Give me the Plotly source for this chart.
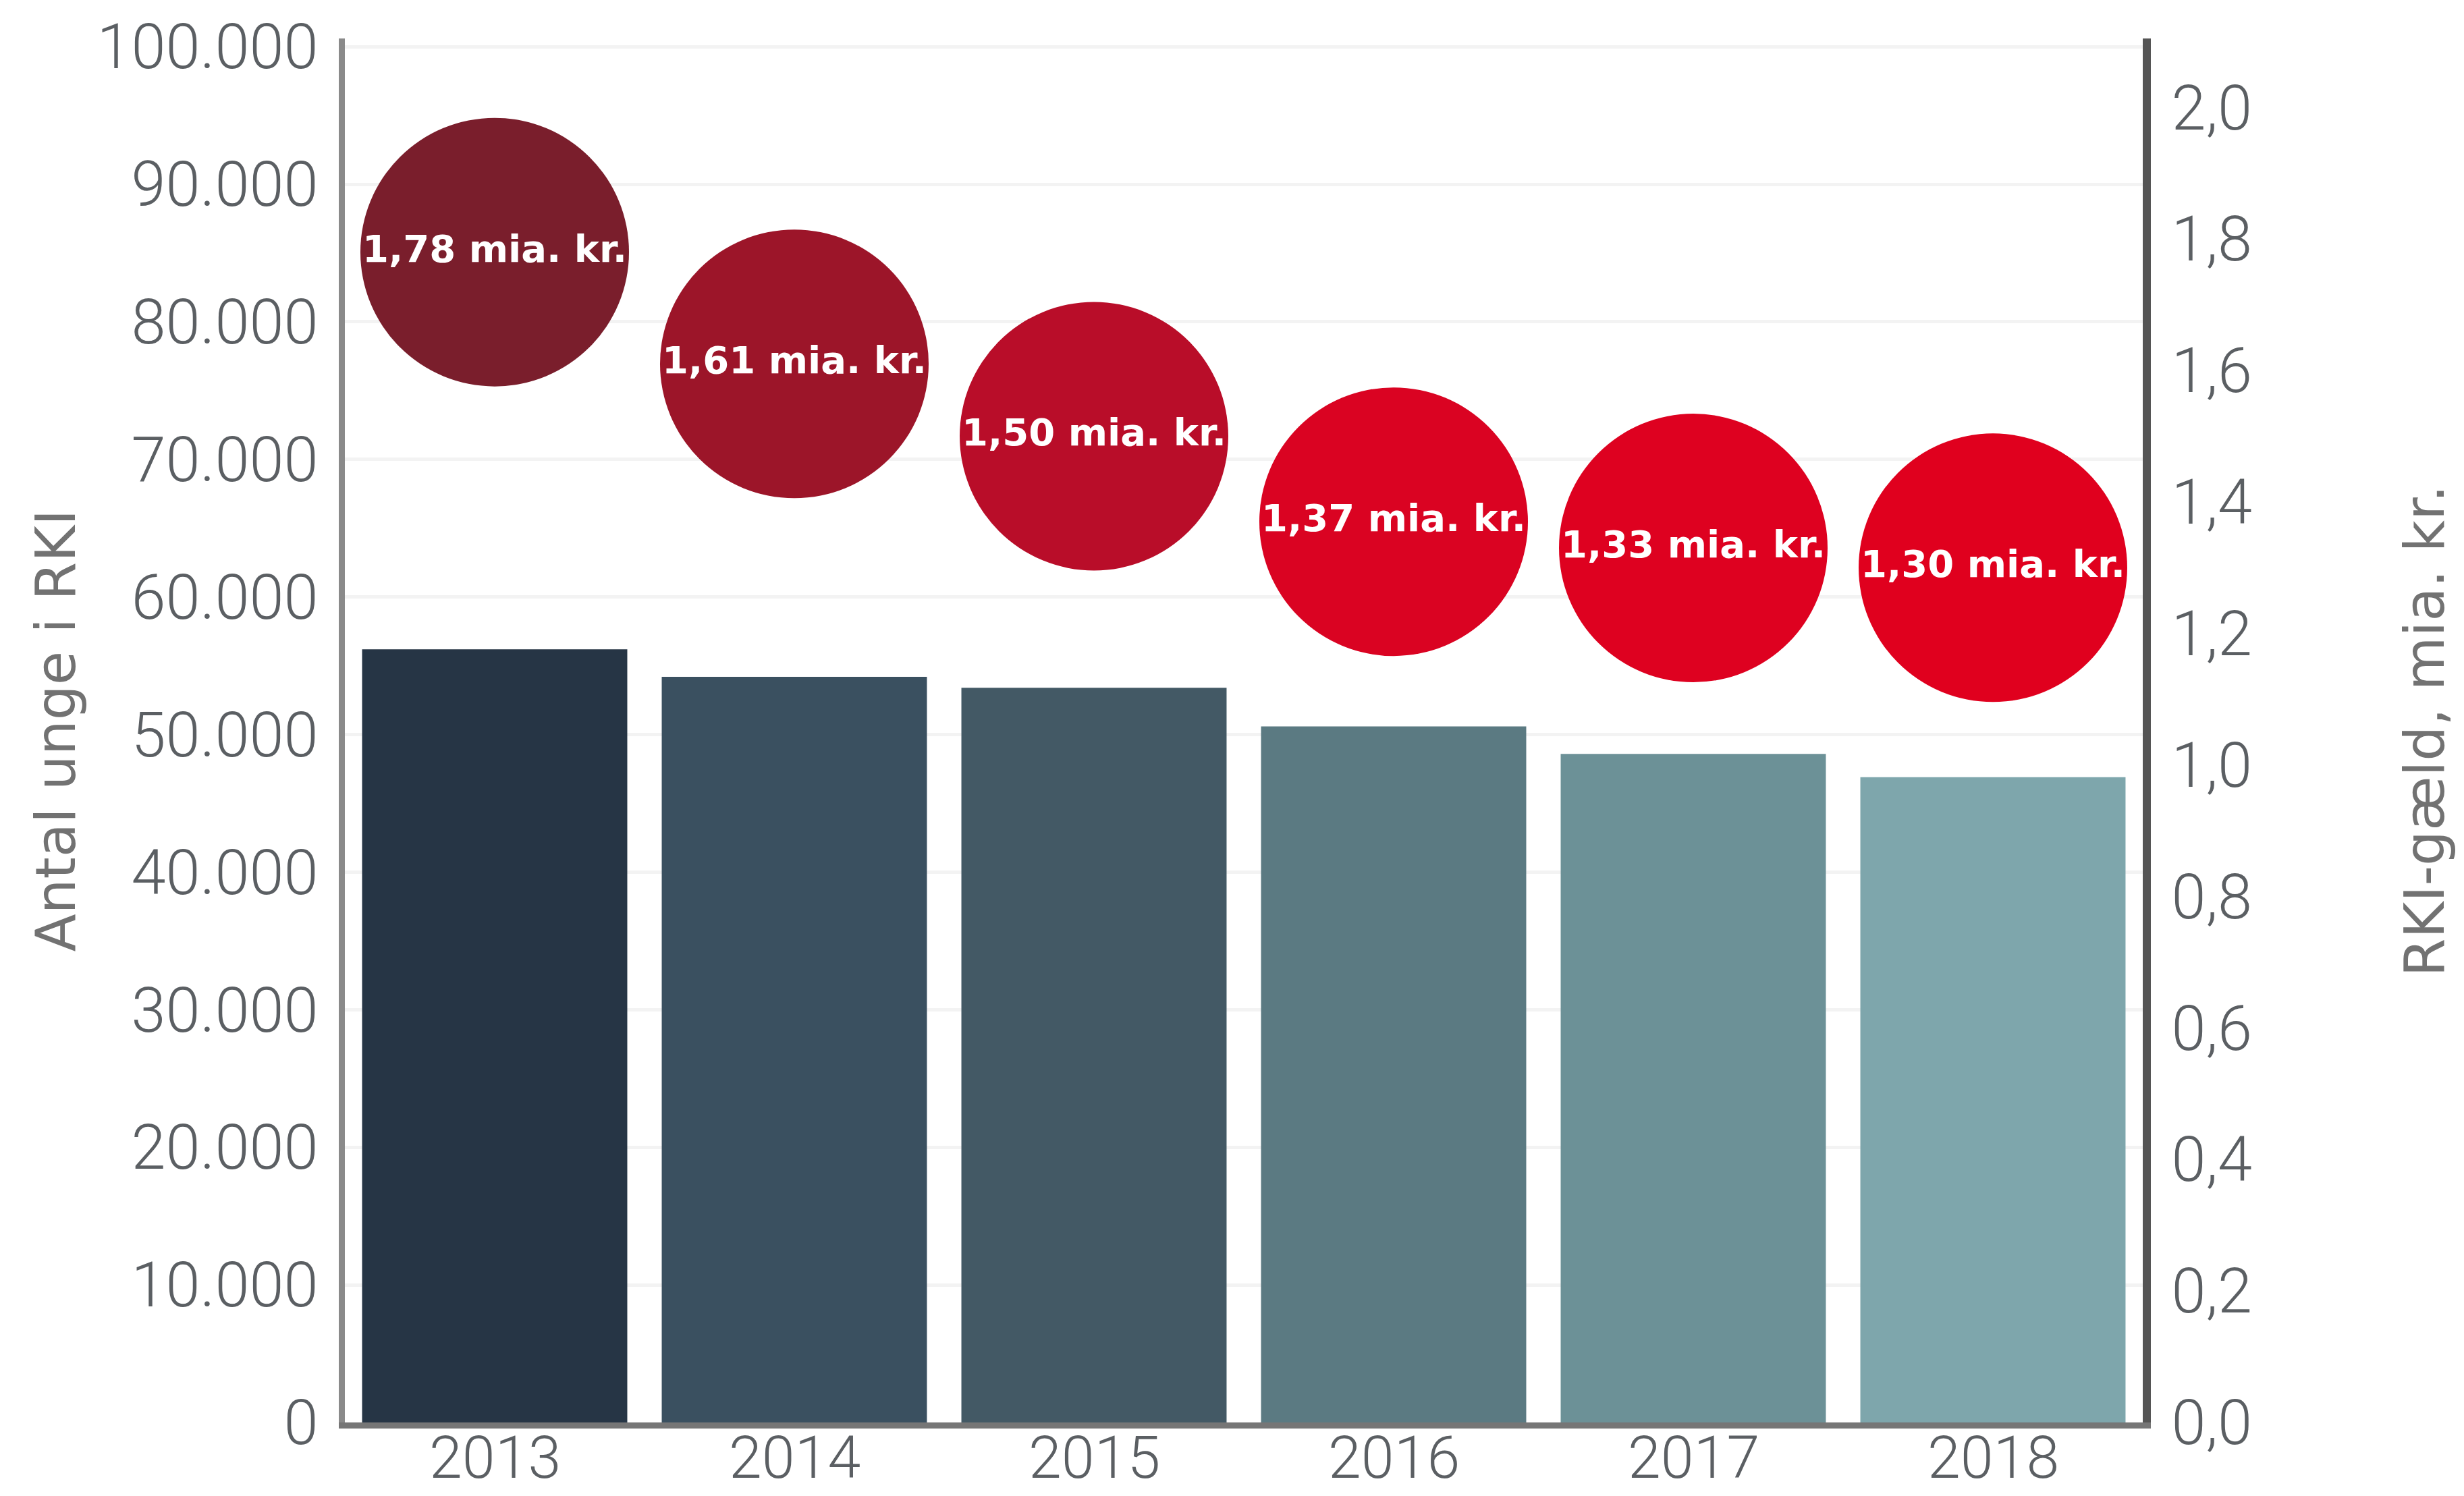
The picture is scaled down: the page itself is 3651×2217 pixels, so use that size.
import plotly.graph_objects as go

# Young people registered in RKI and their total RKI debt, 2013-2018
years = ["2013", "2014", "2015", "2016", "2017", "2018"]
antal_unge = [56200, 54200, 53400, 50600, 48600, 46900]
gaeld_mia = [1.78, 1.61, 1.50, 1.37, 1.33, 1.30]

bar_colors = ["#263545", "#3a5060", "#435965", "#5b7a82", "#6c9197", "#7ea6ac"]
bubble_colors = ["#7a1e2c", "#9c1529", "#b90d29", "#da0322", "#de0120", "#e0001e"]

bubble_labels = [f"{v:.2f}".replace(".", ",") + " mia. kr." for v in gaeld_mia]

W, H = 3651, 2217
M_L, M_R, M_T, M_B = 511, 476, 57, 109
plot_w = W - M_L - M_R
plot_h = H - M_T - M_B

tick_font = dict(family="Roboto, Liberation Sans, sans-serif", size=92,
                 color="#5b5f63", weight=300)
year_font = dict(family="Roboto, Liberation Sans, sans-serif", size=88,
                 color="#5b5f63", weight=300)
title_font = dict(family="DejaVu Sans, sans-serif", size=82, color="#727272")

fig = go.Figure()

fig.add_trace(go.Bar(
    x=years,
    y=antal_unge,
    marker=dict(color=bar_colors, line=dict(width=0)),
    hoverinfo="x+y",
))

fig.add_trace(go.Scatter(
    x=years,
    y=gaeld_mia,
    yaxis="y2",
    mode="markers+text",
    marker=dict(size=398, color=bubble_colors, line=dict(width=0), opacity=1),
    text=bubble_labels,
    textposition="middle center",
    textfont=dict(family="DejaVu Sans, sans-serif", size=56, color="white", weight="bold"),
    cliponaxis=False,
    hoverinfo="x+y",
))

# year labels sit tight under the x axis line, close to the bottom edge
# (category axes take the serial index of each category)
year_labels = [
    dict(
        text=yr,
        xref="x", yref="paper",
        x=i, y=-(M_B - 4) / plot_h,
        xanchor="center", yanchor="bottom",
        showarrow=False,
        font=year_font,
    )
    for i, yr in enumerate(years)
]

axis_titles = [
    dict(
        text="Antal unge i RKI",
        xref="paper", yref="paper",
        x=(82 - M_L) / plot_w, y=0.5,
        xanchor="center", yanchor="middle",
        textangle=-90,
        showarrow=False,
        font=title_font,
    ),
    dict(
        text="RKI-gæld, mia. kr.",
        xref="paper", yref="paper",
        x=(3592 - M_L) / plot_w, y=0.5,
        xanchor="center", yanchor="middle",
        textangle=-90,
        showarrow=False,
        font=title_font,
    ),
]

fig.update_layout(
    width=W,
    height=H,
    autosize=False,
    margin=dict(l=M_L, r=M_R, t=M_T, b=M_B, pad=0, autoexpand=False),
    paper_bgcolor="white",
    plot_bgcolor="white",
    showlegend=False,
    bargap=0.115,
    separators=",.",
    xaxis=dict(
        type="category",
        range=[-0.5, len(years) - 0.5],
        automargin=False,
        showline=True,
        linecolor="#767676",
        linewidth=9,
        showgrid=False,
        ticks="",
        showticklabels=False,
    ),
    yaxis=dict(
        range=[0, 100600],
        dtick=10000,
        tickformat=",.0f",
        automargin=False,
        showline=True,
        linecolor="#8a8a8a",
        linewidth=9,
        showgrid=True,
        gridcolor="#f3f3f3",
        gridwidth=5,
        zeroline=False,
        ticks="",
        tickfont=tick_font,
        ticklabelstandoff=12,
    ),
    yaxis2=dict(
        overlaying="y",
        side="right",
        range=[0, 2.105],
        dtick=0.2,
        tickformat=".1f",
        automargin=False,
        showline=True,
        linecolor="#555555",
        linewidth=12,
        showgrid=False,
        zeroline=False,
        ticks="",
        tickfont=tick_font,
        ticklabelstandoff=12,
    ),
    annotations=year_labels + axis_titles,
)

fig.write_html("out.html")
